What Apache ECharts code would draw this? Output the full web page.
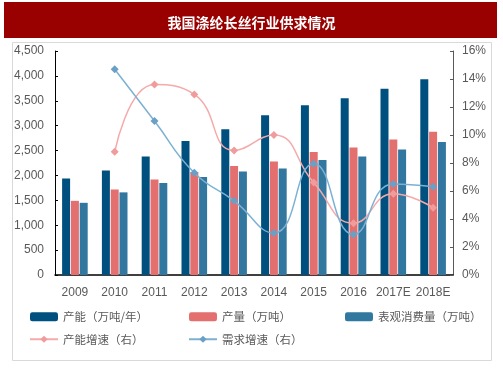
<!DOCTYPE html>
<html><head><meta charset="utf-8">
<style>html,body{margin:0;padding:0;background:#fff;}#c{width:503px;height:378px;}</style>
<script src="https://cdn.jsdelivr.net/npm/echarts@6/dist/echarts.min.js"></script>
</head><body><div id="c"></div>
<script>
const categories = ['2009','2010','2011','2012','2013','2014','2015','2016','2017E','2018E'];
const capacity = [1940, 2100, 2380, 2690, 2930, 3210, 3410, 3550, 3740, 3930];
const production = [1490, 1720, 1920, 2070, 2190, 2280, 2470, 2560, 2720, 2880];
const consumption = [1450, 1660, 1850, 1970, 2080, 2140, 2310, 2380, 2520, 2670];
const capacityGrowth = [null, 8.8, 13.6, 12.9, 8.9, 10.0, 6.6, 3.7, 5.8, 4.8];
const demandGrowth = [null, 14.7, 11.0, 7.3, 5.3, 3.0, 7.95, 2.9, 6.5, 6.3];
const leftTicks = {min: 0, max: 4500, interval: 500};
const rightTicks = {min: 0, max: 16, interval: 2};
const names = ['产能（万吨/年）','产量（万吨）','表观消费量（万吨）','产能增速（右）','需求增速（右）'];

const chart = echarts.init(document.getElementById('c'));
const font = 'Liberation Sans, Arial, sans-serif';
const cjk = '"Noto Sans CJK SC", sans-serif';
const legendBase = {orient:'vertical', itemWidth:28, itemHeight:9, itemGap:11, padding:0,
  textStyle:{color:'#595959', fontSize:11.5, fontFamily:cjk}};
chart.setOption({
  animation:false,
  graphic:[
    {type:'rect', shape:{x:12.5,y:42.5,width:479,height:318}, style:{fill:'#fff', stroke:'#D9D9D9', lineWidth:1}, z:-10},
    {type:'rect', shape:{x:4,y:2,width:493,height:36}, style:{fill:'#990000'}, z:-5}
  ],
  title:{text:'我国涤纶长丝行业供求情况', left:'center', top:11,
    textStyle:{color:'#fff', fontSize:14, fontWeight:'bold', fontFamily:cjk}},
  legend:[
    Object.assign({}, legendBase, {left:29, top:311, data:[names[0], names[3]]}),
    Object.assign({}, legendBase, {left:188, top:311, data:[names[1], names[4]]}),
    Object.assign({}, legendBase, {left:345, top:311, data:[names[2]]})
  ],
  grid:{left:55, right:50, top:51, bottom:103},
  xAxis:{type:'category', data:categories,
    axisLine:{lineStyle:{color:'#000', width:1.5}},
    axisTick:{inside:true, length:3, lineStyle:{color:'#595959'}},
    axisLabel:{color:'#595959', fontSize:12, fontFamily:font, margin:12, interval:0}},
  yAxis:[
    {type:'value', min:leftTicks.min, max:leftTicks.max, interval:leftTicks.interval,
     axisLine:{show:true, lineStyle:{color:'#000'}},
     axisTick:{show:true, inside:true, length:3, lineStyle:{color:'#000'}},
     splitLine:{show:false},
     axisLabel:{color:'#595959', fontSize:12, fontFamily:font, margin:11,
       formatter:v=>v.toLocaleString('en-US')}},
    {type:'value', min:rightTicks.min, max:rightTicks.max, interval:rightTicks.interval,
     axisLine:{show:true, lineStyle:{color:'#595959'}},
     axisTick:{show:true, inside:true, length:3, lineStyle:{color:'#595959'}},
     splitLine:{show:false},
     axisLabel:{color:'#595959', fontSize:12, fontFamily:font, margin:9, formatter:'{value}%'}}
  ],
  series:[
    {name:names[0], type:'bar', data:capacity, barWidth:8, barGap:'10%', itemStyle:{color:'#00507F'}},
    {name:names[1], type:'bar', data:production, barWidth:8, barGap:'10%', itemStyle:{color:'#E36F6F'}},
    {name:names[2], type:'bar', data:consumption, barWidth:8, barGap:'10%', itemStyle:{color:'#31779F'}},
    {name:names[3], type:'line', yAxisIndex:1, data:capacityGrowth, smooth:0.5, symbol:'diamond', symbolSize:8,
      lineStyle:{color:'#F5AAAA', width:1.5}, itemStyle:{color:'#F09C9C'}, z:5},
    {name:names[4], type:'line', yAxisIndex:1, data:demandGrowth, smooth:0.5, symbol:'diamond', symbolSize:8,
      lineStyle:{color:'#7DB1D3', width:1.5}, itemStyle:{color:'#6A9FC6'}, z:5}
  ]
});
</script></body></html>
